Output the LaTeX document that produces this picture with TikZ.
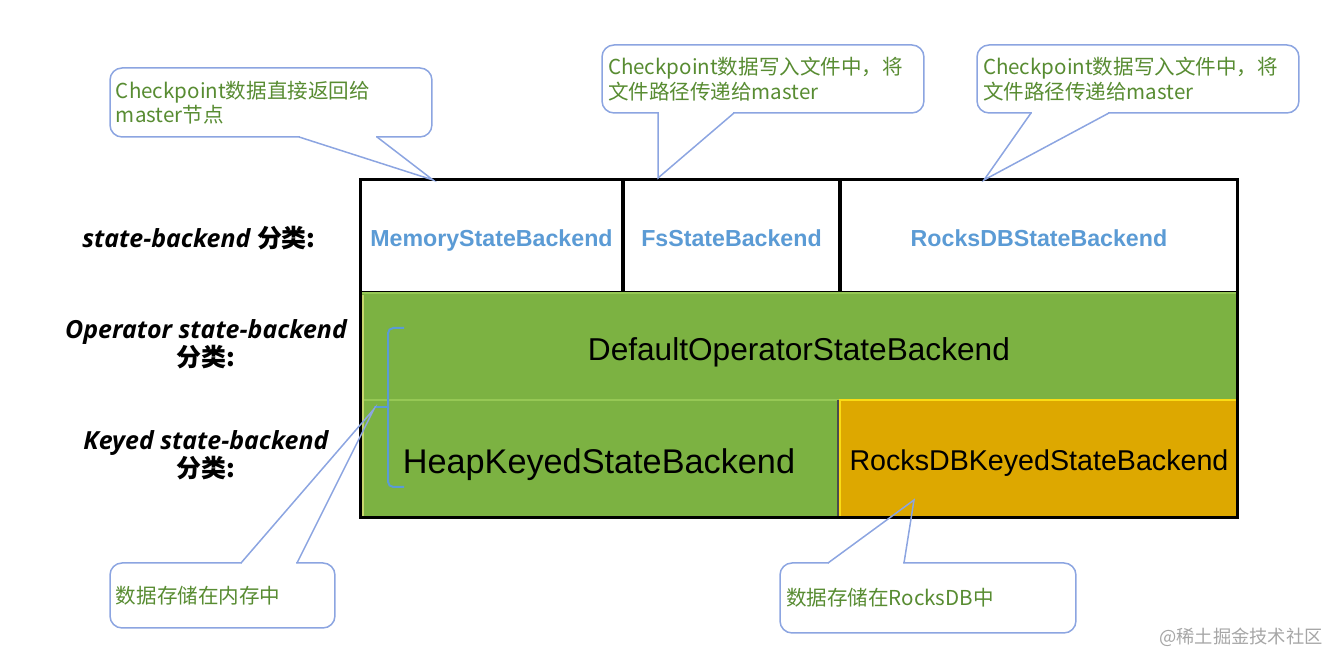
\documentclass[tikz,border=0pt]{standalone}
\usepackage{fontspec}
\setmainfont{Liberation Sans}
\newfontfamily\cjk{Noto Sans CJK SC}
\newfontfamily\hand{Open Sans}
\usetikzlibrary{calc}

\definecolor{cellgreen}{RGB}{124,178,66}
\definecolor{cellorange}{RGB}{221,168,0}
\definecolor{headblue}{RGB}{91,155,213}
\definecolor{notegreen}{RGB}{88,140,50}
\definecolor{noteline}{RGB}{140,165,225}

\tikzset{
  head/.style={draw=black, line width=0.06cm, fill=white, outer sep=0pt, inner sep=0pt,
    minimum height=2.26cm, text height=0.52cm, text depth=0.1cm, text=headblue,
    font=\bfseries\fontsize{13.2}{16}\selectfont},
  bodycell/.style={draw={rgb,255:red,150;green,200;blue,85}, line width=0.03cm, outer sep=0pt,
    inner sep=0pt, fill=cellgreen, text=black},
  note/.style={draw=noteline, line width=0.03cm, fill=white, rounded corners=0.24cm,
    outer sep=0pt, inner sep=0.12cm, align=left, text=notegreen,
    font=\cjk\fontsize{11.7}{14}\selectfont},
  pointer/.style={draw=noteline, line width=0.03cm},
  kind/.style={align=center, font=\hand\bfseries\itshape\fontsize{14.2}{16}\selectfont},
}

\begin{document}
\begin{tikzpicture}[x=0.02cm, y=-0.02cm]
  \useasboundingbox (0,0) rectangle (1340,668);

  % state-backend row
  \node[head, minimum width=5.26cm, anchor=north west] (memCell) at (360,180) {MemoryStateBackend};
  \node[head, minimum width=4.34cm, anchor=north west] (fsCell) at (623,180) {FsStateBackend};
  \node[head, minimum width=7.96cm, anchor=north west] (rocksCell) at (840,180) {RocksDBStateBackend};

  % operator and keyed rows
  \node[bodycell, minimum width=17.56cm, minimum height=2.14cm, anchor=north west,
    text height=0.71cm, text depth=0.13cm, font=\fontsize{18}{20}\selectfont]
    (opCell) at (360,293) {DefaultOperatorStateBackend};
  \node[bodycell, minimum width=9.56cm, minimum height=2.36cm, anchor=north west,
    text height=0.72cm, text depth=0.14cm, font=\fontsize{19.5}{22}\selectfont]
    (heapCell) at (360,400) {HeapKeyedStateBackend};
  \node[bodycell, fill=cellorange, draw={rgb,255:red,250;green,220;blue,20}, minimum width=7.96cm,
    minimum height=2.36cm, anchor=north west, text height=0.6cm, text depth=0.12cm,
    font=\fontsize{16.3}{18}\selectfont] (rocksKeyCell) at (840,400) {RocksDBKeyedStateBackend};
  \draw[draw={rgb,255:red,200;green,215;blue,110}, line width=0.04cm] (opCell.north west) ++(3,2) -- ++(0,221);
  \draw[draw=black!70, line width=0.03cm] (rocksKeyCell.north west) ++(-2,0) -- ++(0,118);
  \draw[line width=0.06cm] (memCell.north west) rectangle (rocksKeyCell.south east);

  % brace
  \draw[draw=headblue, line width=0.04cm, rounded corners=3] (404,328) -- (388,328) -- (388,487) -- (404,487);
  \draw[draw=headblue, line width=0.04cm] (388,407) -- (374,407);

  % row labels
  \node[kind] (stateKind) at (199,238) {state-backend {\cjk\upshape 分类:}};
  \node[kind] (opKind) at (206,344) {Operator state-backend\\{\cjk\upshape 分类:}};
  \node[kind] (keyKind) at (206,455) {Keyed state-backend\\{\cjk\upshape 分类:}};

  % notes
  \node[note, text width=6.2cm, minimum height=1.38cm, anchor=north west] (noteMem) at (110,68)
    {Checkpoint数据直接返回给\\master节点};
  \node[note, text width=6.2cm, minimum height=1.36cm, anchor=north west] (noteFs) at (602,45)
    {Checkpoint数据写入文件中，将\\文件路径传递给master};
  \node[note, text width=6.2cm, minimum height=1.36cm, anchor=north west] (noteRocks) at (977,45)
    {Checkpoint数据写入文件中，将\\文件路径传递给master};
  \node[note, text width=4.26cm, minimum height=1.3cm, anchor=north west] (noteHeap) at (110,563)
    {数据存储在内存中};
  \node[note, text width=5.68cm, minimum height=1.4cm, anchor=north west] (noteRocksKey) at (780,563)
    {数据存储在RocksDB中};

  % pointers
  \coordinate (memTip) at (433,180);
  \coordinate (fsTip) at (658,178);
  \coordinate (rocksTip) at (984,180);
  \coordinate (heapTip) at (374,409);
  \coordinate (rocksKeyTip) at (914,500);

  \fill[white] ($(noteMem.south west)+(190,-2)$) rectangle ($(noteMem.south west)+(266,2)$);
  \draw[pointer] ($(noteMem.south west)+(189,0)$) -- (memTip) -- ($(noteMem.south west)+(267,0)$);
  \fill[white] ($(noteFs.south west)+(57,-2)$) rectangle ($(noteFs.south west)+(131,2)$);
  \draw[pointer] ($(noteFs.south west)+(56,0)$) -- (fsTip) -- ($(noteFs.south west)+(132,0)$);
  \fill[white] ($(noteRocks.south west)+(55,-2)$) rectangle ($(noteRocks.south west)+(131,2)$);
  \draw[pointer] ($(noteRocks.south west)+(54,0)$) -- (rocksTip) -- ($(noteRocks.south west)+(132,0)$);
  \fill[white] ($(noteHeap.north west)+(132,-2)$) rectangle ($(noteHeap.north west)+(186,2)$);
  \draw[pointer] ($(noteHeap.north west)+(131,0)$) -- (heapTip) -- ($(noteHeap.north west)+(187,0)$);
  \fill[white] ($(noteRocksKey.north west)+(49,-2)$) rectangle ($(noteRocksKey.north west)+(123,2)$);
  \draw[pointer] ($(noteRocksKey.north west)+(48,0)$) -- (rocksKeyTip) -- ($(noteRocksKey.north west)+(124,0)$);

  % site mark
  \node[text=black!35, font=\cjk\fontsize{10.4}{12}\selectfont] (siteMark) at (1241,637) {@稀土掘金技术社区};
\end{tikzpicture}
\end{document}
